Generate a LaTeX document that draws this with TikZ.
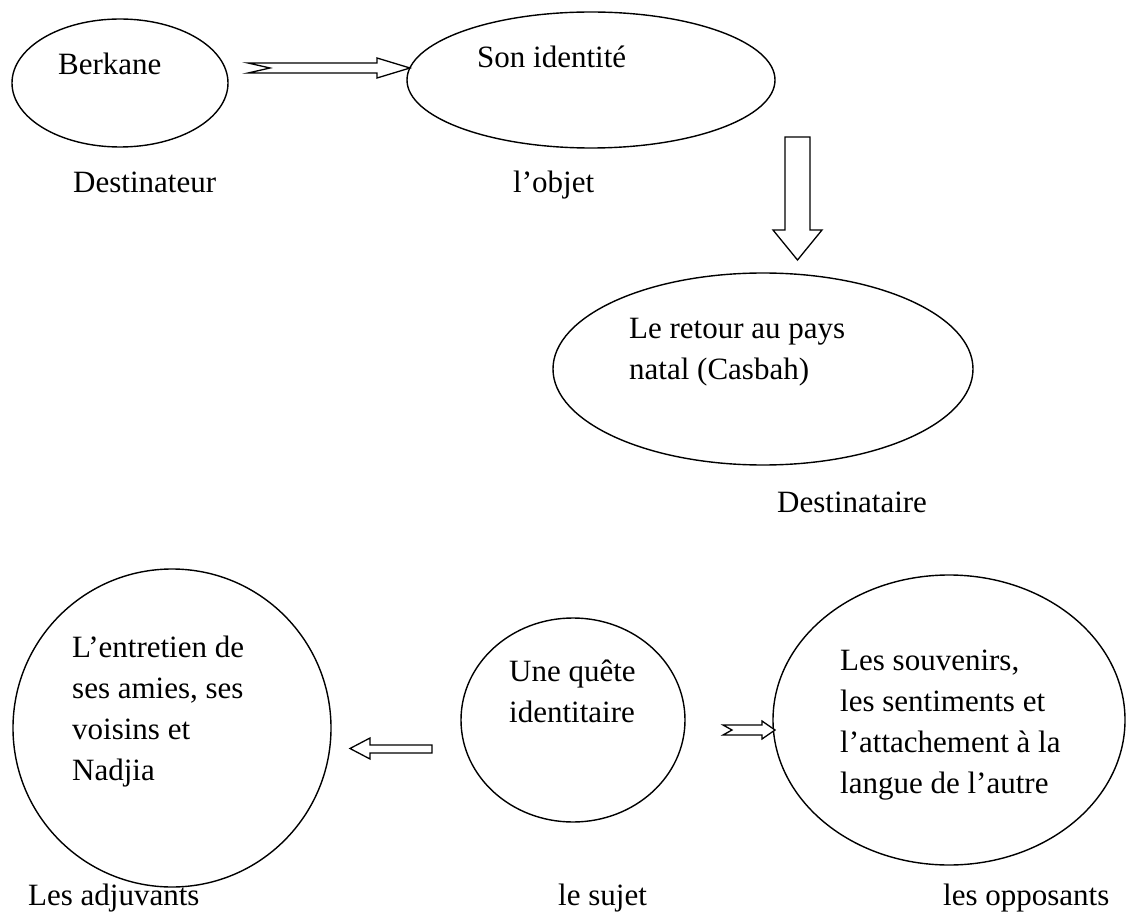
\documentclass[tikz,border=0pt]{standalone}
\usepackage{fontspec}
\setmainfont{Liberation Serif}
\usetikzlibrary{shapes.geometric}
\begin{document}
\begin{tikzpicture}[x=1pt,y=-1pt,
  oval/.style={ellipse,draw,line width=1.4pt,inner sep=0pt},
  lbl/.style={anchor=base west,inner sep=0pt,font=\fontsize{31}{41}\selectfont},
  txt/.style={anchor=base west,inner sep=0pt,align=left,font=\fontsize{31}{41}\selectfont},
  blockarrow/.style={draw,line width=1.3pt,fill=white,line join=miter}]
\useasboundingbox (0,0) rectangle (1127,917);
% ellipses
\node[oval,minimum width=216pt,minimum height=128pt] (berkane) at (120,83) {};
\node[oval,minimum width=368pt,minimum height=136pt] (objet) at (591,80) {};
\node[oval,minimum width=420pt,minimum height=192pt] (retour) at (763,369) {};
\node[oval,minimum width=318pt,minimum height=318pt] (adj) at (172,728) {};
\node[oval,minimum width=224pt,minimum height=204pt] (sujet) at (573,720) {};
\node[oval,minimum width=352pt,minimum height=290pt] (opp) at (949,720) {};
% texts inside (base = baseline of the last line)
\node[txt] (tberkane) at (58,75) {Berkane};
\node[txt] (tobjet) at (477,68) {Son identité};
\node[txt] (tretour) at (629,379) {Le retour au pays\\natal (Casbah)};
\node[txt] (tadj) at (72,780) {L’entretien de\\ses amies, ses\\voisins et\\Nadjia};
\node[txt] (tsujet) at (509,722) {Une quête\\identitaire};
\node[txt] (topp) at (840,793) {Les souvenirs,\\les sentiments et\\l’attachement à la\\langue de l’autre};
% labels
\node[lbl] (ldest) at (73,193) {Destinateur};
\node[lbl] (lobj) at (513,193) {l’objet};
\node[lbl] (ldestre) at (777,512) {Destinataire};
\node[lbl] (ladj) at (28,905) {Les adjuvants};
\node[lbl] (lsuj) at (558,905) {le sujet};
\node[lbl] (lopp) at (943,905) {les opposants};
% block arrows
\draw[blockarrow] (248,63) -- (377,63) -- (377,58) -- (410,68) -- (377,78) -- (377,73) -- (248,73) -- (270,68) -- cycle;
\draw[blockarrow] (785,137) -- (810,137) -- (810,230) -- (822,230) -- (797.5,260) -- (773,230) -- (785,230) -- cycle;
\draw[blockarrow] (432,745) -- (370,745) -- (370,738) -- (350,748.5) -- (370,759) -- (370,753) -- (432,753) -- cycle;
\draw[blockarrow] (723,725) -- (762,725) -- (762,721) -- (775,730) -- (762,739) -- (762,735) -- (723,735) -- (732,730) -- cycle;
\end{tikzpicture}
\end{document}
